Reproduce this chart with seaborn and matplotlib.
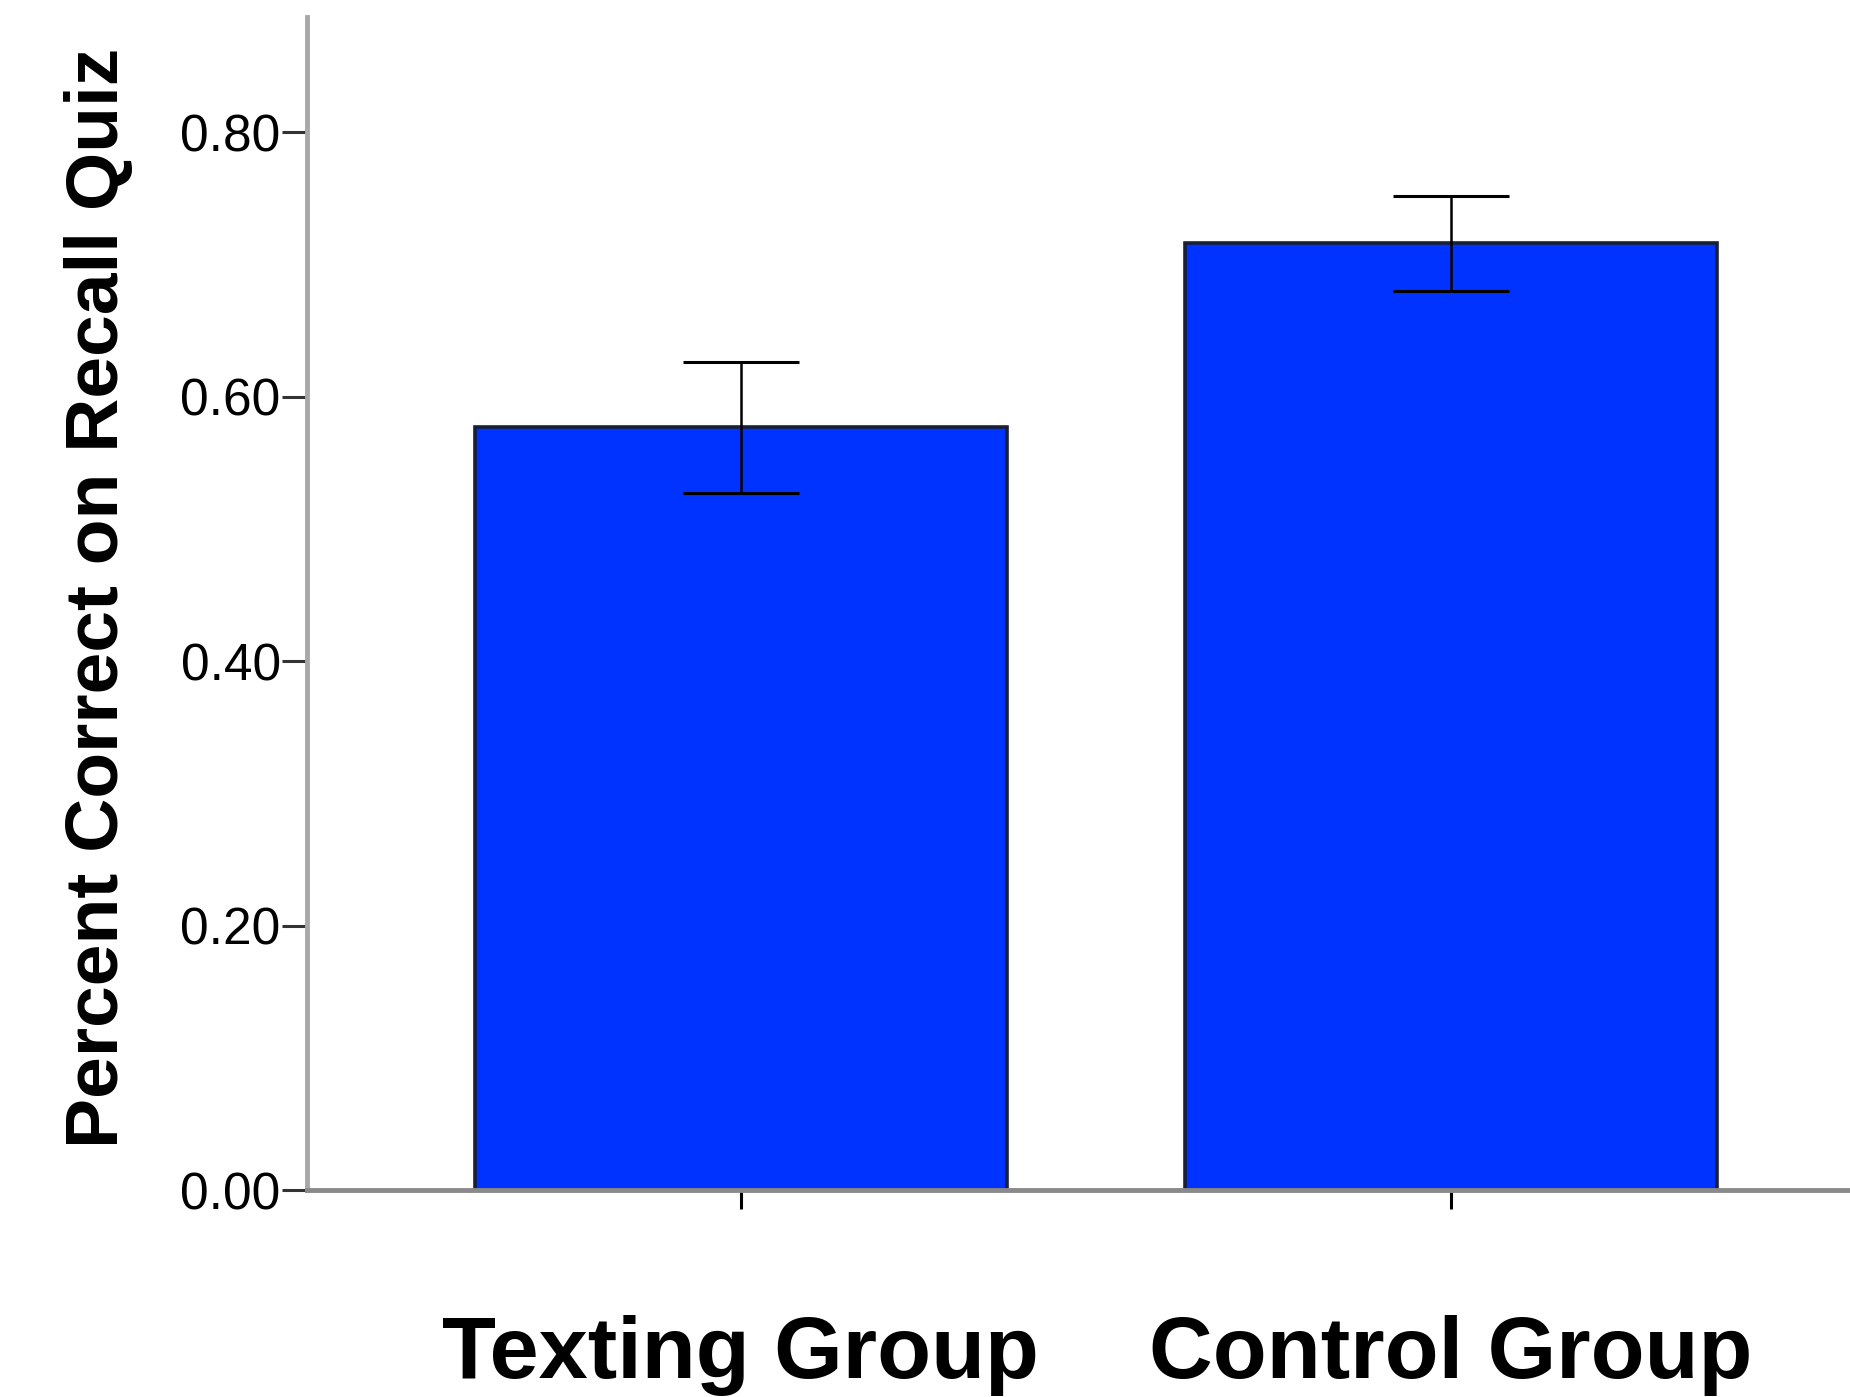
import matplotlib
matplotlib.use("Agg")
import matplotlib.pyplot as plt
import seaborn as sns
import numpy as np
import pandas as pd

# values
groups = ["Texting Group", "Control Group"]
means = [0.577, 0.716]
err_low = [0.527, 0.680]
err_high = [0.626, 0.752]
yticks = [0.00, 0.20, 0.40, 0.60, 0.80]

sns.set_style("white")
plt.rcParams["font.family"] = ["Liberation Sans", "DejaVu Sans"]
plt.rcParams["text.color"] = "black"

df = pd.DataFrame({"group": groups, "mean": means})

fig = plt.figure(figsize=(18.5, 13.97), dpi=100)
ax = fig.add_axes([0.166, 0.148, 0.834, 0.8397])

sns.barplot(data=df, x="group", y="mean", color="#0033ff", saturation=1,
            width=0.75, edgecolor="#1a1f33", linewidth=2.6, errorbar=None, ax=ax)

m = np.array(means)
yerr = np.vstack([m - np.array(err_low), np.array(err_high) - m])
ax.errorbar(np.arange(len(groups)), m, yerr=yerr, fmt="none", ecolor="black",
            elinewidth=1.8, capsize=42, capthick=2.2, zorder=5)

ax.set_xlim(-0.611, 1.562)
ax.set_ylim(0, 0.887)
ax.set_yticks(yticks)
ax.set_yticklabels([f"{v:.2f}" for v in yticks])

for s in ["top", "right"]:
    ax.spines[s].set_visible(False)
ax.spines["left"].set_color("#a8a8a8")
ax.spines["left"].set_linewidth(3.5)
ax.spines["bottom"].set_color("#8a8a8a")
ax.spines["bottom"].set_linewidth(3.5)

ax.tick_params(axis="y", direction="out", length=18, width=2.2, color="#333333",
               labelsize=37, pad=1, left=True, labelcolor="black")
ax.tick_params(axis="x", direction="out", length=14, width=2.2, color="black",
               labelsize=63.5, pad=76, bottom=True, labelcolor="black")
for lab in ax.get_xticklabels():
    lab.set_fontweight("bold")

ax.set_xlabel("")
ax.set_ylabel("Percent Correct on Recall Quiz", fontsize=54, fontweight="bold",
              color="black")
ax.yaxis.set_label_coords(-0.135, 0.505)
ax.yaxis.label.set_verticalalignment("center")

fig.savefig("out.png", dpi=100)
